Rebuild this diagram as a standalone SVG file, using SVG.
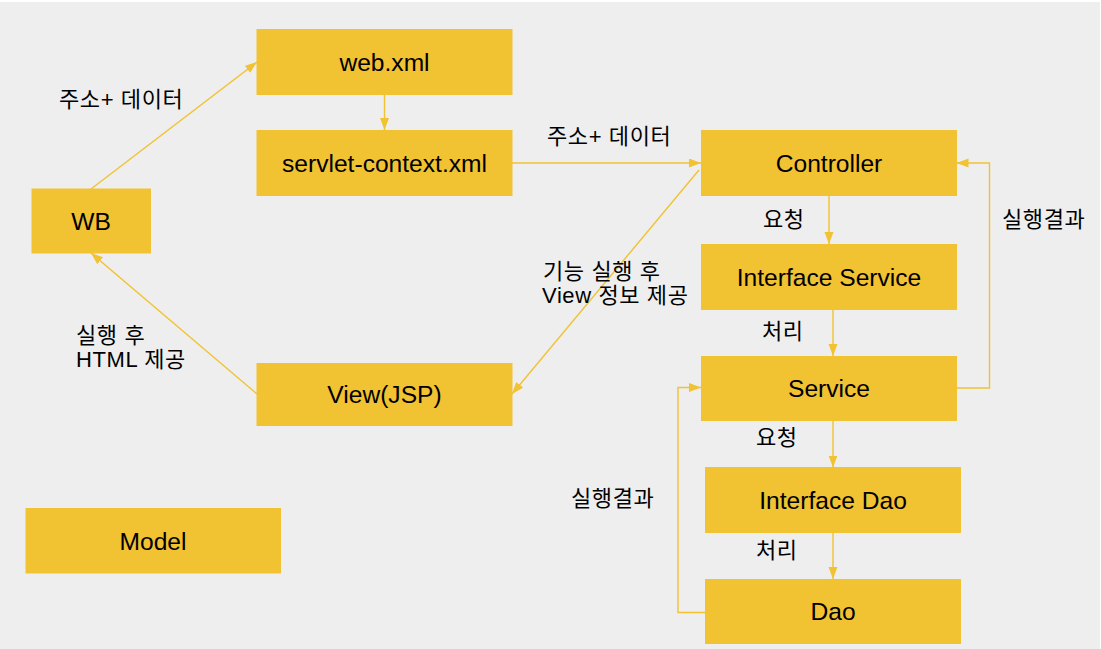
<svg xmlns="http://www.w3.org/2000/svg" width="1101" height="649" viewBox="0 0 1101 649">
  <style>
    .box { fill: #f1c232; stroke: #f1c232; stroke-width: 1; }
    .bt { font-family: "Liberation Sans", Arial, sans-serif; font-size: 24.6px; fill: #000; text-anchor: middle; }
    .lbl { font-family: "Liberation Sans", "Noto Sans CJK KR", sans-serif; font-size: 22px; letter-spacing: 0.6px; fill: #000; }
    .edge { fill: none; stroke: #f1c232; stroke-width: 1.4; }
  </style>
  <defs>
    <marker id="arr" markerUnits="userSpaceOnUse" markerWidth="13" markerHeight="10" refX="12" refY="4.5" orient="auto">
      <path d="M0,0 L12,4.5 L0,9 z" fill="#f1c232"/>
    </marker>
  </defs>
  <rect x="0" y="0" width="1101" height="649" fill="#ffffff"/>
  <rect x="0" y="2" width="1100" height="647" fill="#eeeeee"/>

  <g id="connectors">
    <path class="edge" d="M91,189 L257,62" marker-end="url(#arr)"/>
    <path class="edge" d="M384.5,94 L384.5,130" marker-end="url(#arr)"/>
    <path class="edge" d="M512,163 L701,163" marker-end="url(#arr)"/>
    <path class="edge" d="M699,170 L512,394" marker-end="url(#arr)"/>
    <path class="edge" d="M257,394 L91,253" marker-end="url(#arr)"/>
    <path class="edge" d="M829,195 L829,244" marker-end="url(#arr)"/>
    <path class="edge" d="M833,309 L833,356" marker-end="url(#arr)"/>
    <path class="edge" d="M956,388 L989.5,388 L989.5,163 L956.5,163" marker-end="url(#arr)"/>
    <path class="edge" d="M833,420.5 L833,467.5" marker-end="url(#arr)"/>
    <path class="edge" d="M833,532.5 L833,579" marker-end="url(#arr)"/>
    <path class="edge" d="M705,612.5 L678,612.5 L678,387.5 L701,387.5" marker-end="url(#arr)"/>
  </g>

  <g id="labels">
    <text class="lbl" x="59" y="107">주소+ 데이터</text>
    <text class="lbl" x="547" y="144">주소+ 데이터</text>
    <text class="lbl" x="763" y="227">요청</text>
    <text class="lbl" x="1002" y="227">실행결과</text>
    <text class="lbl" x="543" y="279">기능 실행 후</text>
    <text class="lbl" x="542" y="303">View 정보 제공</text>
    <text class="lbl" x="762" y="339">처리</text>
    <text class="lbl" x="76" y="343">실행 후</text>
    <text class="lbl" x="76" y="367">HTML 제공</text>
    <text class="lbl" x="756" y="445">요청</text>
    <text class="lbl" x="571" y="506">실행결과</text>
    <text class="lbl" x="756" y="558">처리</text>
  </g>

  <g id="node-webxml">
    <rect class="box" x="257" y="29.5" width="255" height="65"/>
    <text class="bt" x="384.5" y="70.5">web.xml</text>
  </g>
  <g id="node-servlet-context">
    <rect class="box" x="257" y="130.5" width="255" height="65"/>
    <text class="bt" x="384.5" y="171.5">servlet-context.xml</text>
  </g>
  <g id="node-wb">
    <rect class="box" x="32" y="189" width="118.5" height="64"/>
    <text class="bt" x="91" y="230">WB</text>
  </g>
  <g id="node-controller">
    <rect class="box" x="701.5" y="130.5" width="255" height="65"/>
    <text class="bt" x="829" y="171.5">Controller</text>
  </g>
  <g id="node-interface-service">
    <rect class="box" x="701.5" y="244.5" width="255" height="65"/>
    <text class="bt" x="829" y="285.5">Interface Service</text>
  </g>
  <g id="node-service">
    <rect class="box" x="701.5" y="356.5" width="255" height="64"/>
    <text class="bt" x="829" y="397">Service</text>
  </g>
  <g id="node-interface-dao">
    <rect class="box" x="705.5" y="467.5" width="255" height="65"/>
    <text class="bt" x="833" y="508.5">Interface Dao</text>
  </g>
  <g id="node-dao">
    <rect class="box" x="705.5" y="579.5" width="255" height="64"/>
    <text class="bt" x="833" y="620">Dao</text>
  </g>
  <g id="node-view">
    <rect class="box" x="257" y="363.5" width="255" height="62"/>
    <text class="bt" x="384.5" y="403">View(JSP)</text>
  </g>
  <g id="node-model">
    <rect class="box" x="26" y="508.5" width="254.5" height="64.5"/>
    <text class="bt" x="153" y="549.5">Model</text>
  </g>
</svg>
